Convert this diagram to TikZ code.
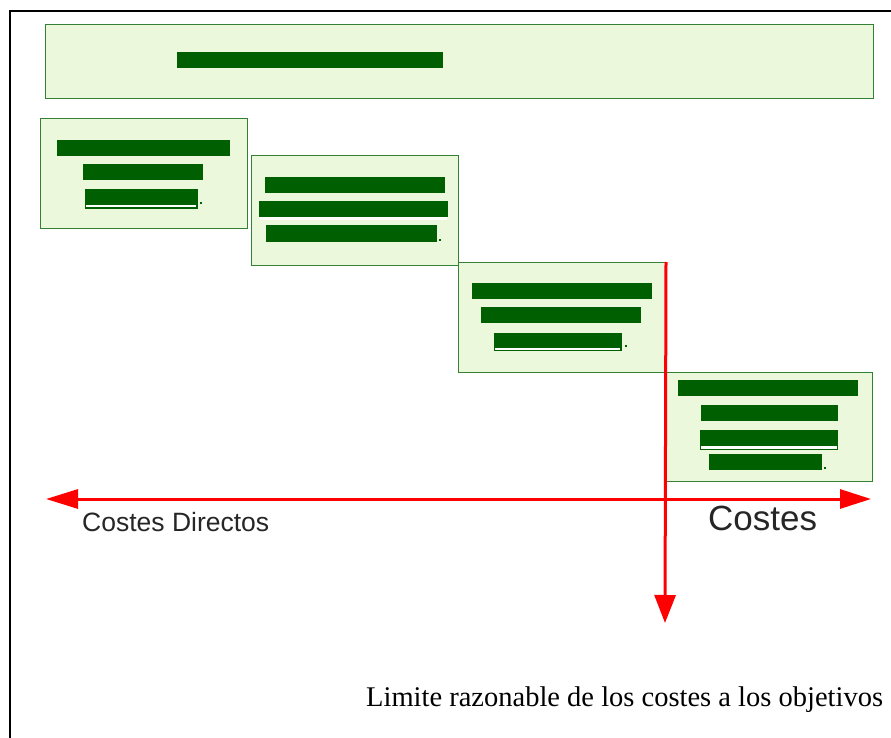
\documentclass[tikz,border=0pt]{standalone}
\usepackage{fontspec}
\setmainfont{Liberation Serif}
\newfontfamily\arialf{Liberation Sans}
\usetikzlibrary{arrows.meta}
\definecolor{boxfill}{RGB}{235,248,220}
\definecolor{boxline}{RGB}{52,128,52}
\definecolor{barc}{RGB}{0,95,0}
\definecolor{arrred}{RGB}{255,0,0}
\tikzset{
  gbox/.style={draw=boxline, fill=boxfill, line width=1pt, inner sep=0pt, anchor=north west},
  redbar/.style={fill=barc},
  redarrow/.style={draw=arrred, line width=3pt},
  stripe/.style={fill=white},
  dotmark/.style={fill=barc}
}
\begin{document}
\begin{tikzpicture}[x=1pt,y=-1pt]
\useasboundingbox (0,0) rectangle (891,738);
% frame
\draw[line width=2pt] (10,738) -- (10,11) -- (891,11);
% boxes
\node[gbox, minimum width=828pt, minimum height=74pt] (top) at (45,24) {};
\node[gbox, minimum width=207pt, minimum height=110pt] (b1) at (40,118) {};
\node[gbox, minimum width=207pt, minimum height=110pt] (b2) at (251,155) {};
\node[gbox, minimum width=207pt, minimum height=110pt] (b3) at (458,262) {};
\node[gbox, minimum width=206pt, minimum height=109pt] (b4) at (666,372) {};
% redacted bars
\fill[redbar] (177,52) rectangle (443,68);
% box 1
\fill[redbar] (57,140) rectangle (230,156);
\fill[redbar] (83,164) rectangle (203,180);
\fill[redbar] (85,189) rectangle (198,209);
\fill[stripe] (86,205) rectangle (196,207.5);
\fill[dotmark] (200,202) rectangle (202,204);
% box 2
\fill[redbar] (265,177) rectangle (445,193);
\fill[redbar] (259,201) rectangle (448,217);
\fill[stripe] (260,217) rectangle (447,219.5);
\fill[redbar] (266,225) rectangle (437,242);
\fill[dotmark] (439,239) rectangle (441,241);
% box 3
\fill[redbar] (472,283) rectangle (652,299);
\fill[redbar] (481,307) rectangle (641,323);
\fill[redbar] (494,333) rectangle (622,351);
\fill[stripe] (495,348) rectangle (620,350);
\fill[dotmark] (625,345) rectangle (627,347);
% box 4
\fill[redbar] (678,380) rectangle (858,396);
\fill[redbar] (701,405) rectangle (838,421);
\fill[redbar] (700,430) rectangle (838,450);
\fill[stripe] (701,446) rectangle (837,448.5);
\fill[redbar] (709,454) rectangle (822,470);
\fill[dotmark] (824,467) rectangle (826,469);
% labels
\node[anchor=base west, inner sep=0pt, font=\arialf\fontsize{26.5}{28}\selectfont, text=black!85] (cd) at (82,531) {Costes Directos};
\node[anchor=base west, inner sep=0pt, font=\arialf\fontsize{35}{40}\selectfont, text=black!85] (co) at (708,530) {Costes};
\node[anchor=base west, inner sep=0pt, font=\fontsize{28.5}{30}\selectfont] (lim) at (366,706) {Limite razonable de los costes a los objetivos};
% arrows
\coordinate (hl) at (46,499);
\coordinate (hr) at (871,499);
\coordinate (vb) at (665,623);
\draw[redarrow, {Triangle[length=32pt,width=19pt]}-{Triangle[length=31pt,width=19pt]}] (hl) -- (hr);
\draw[redarrow, -{Triangle[length=28pt,width=21pt]}] (b3.north east) -- (vb);
\end{tikzpicture}
\end{document}
